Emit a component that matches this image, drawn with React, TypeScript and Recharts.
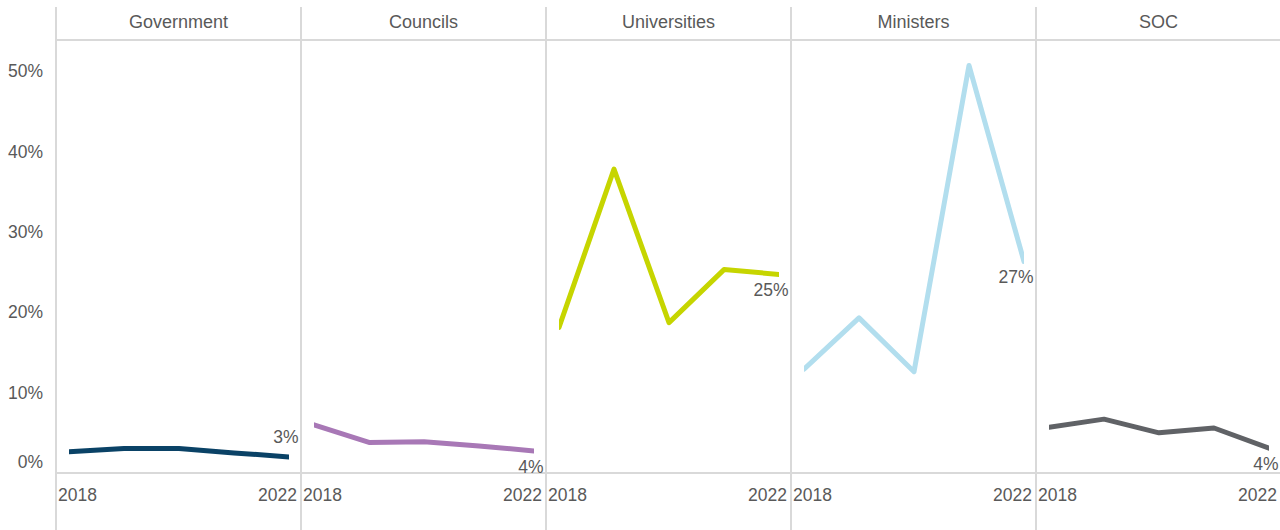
import React from 'react';
import { LineChart, Line, XAxis, YAxis, LabelList } from 'recharts';

const years = [2018, 2019, 2020, 2021, 2022];
const panelNames = ['Government', 'Councils', 'Universities', 'Ministers', 'SOC'];
const government = [2.65, 3.05, 3.05, 2.5, 2.0];
const councils = [6.0, 3.8, 3.9, 3.35, 2.75];
const universities = [18.1, 37.8, 18.7, 25.3, 24.7];
const ministers = [12.9, 19.3, 12.6, 50.7, 26.3];
const soc = [5.7, 6.7, 5.0, 5.6, 3.1];
const endLabels = ['3%', '4%', '25%', '27%', '4%'];
const yTicks = [0, 10, 20, 30, 40, 50];
const xTicks = [2018, 2022];

const seriesList = [government, councils, universities, ministers, soc];
const colors = ['#0a4266', '#a878b6', '#c6d500', '#b2deee', '#606266'];
const labelAbove = [true, false, false, false, false];

const FONT = '"Liberation Sans", Arial, Helvetica, sans-serif';
const TEXT = '#595959';
const GRID = '#d9d9d9';
const FS = 17.5;

const Y_AXIS_W = 56;
const PANEL_W = 245;
const H = 530;
const TOP = 40;
const X_AXIS_H = 57;
const Y_DOMAIN: [number, number] = [0, 53.86];

const XTick = (props: any) => {
  const { x, y, payload } = props;
  const first = payload.value === xTicks[0];
  return (
    <text
      x={first ? x - 11 : x + 8}
      y={y + 22}
      dy="0.35em"
      textAnchor={first ? 'start' : 'end'}
      fill={TEXT}
      fontSize={FS}
      fontFamily={FONT}
    >
      {payload.value}
    </text>
  );
};

const YTick = (props: any) => {
  const { x, y, payload } = props;
  return (
    <text
      x={x}
      y={payload.value === 0 ? y - 11 : y}
      dy="0.35em"
      textAnchor="end"
      fill={TEXT}
      fontSize={FS}
      fontFamily={FONT}
    >
      {payload.value}%
    </text>
  );
};

const makeEndLabel = (above: boolean) => (props: any) => {
  const { value } = props;
  if (!value) return null;
  const vb = props.viewBox || {};
  const x = vb.x ?? props.x;
  const y = vb.y ?? props.y;
  return (
    <text
      x={x + 9.5}
      y={above ? y - 20 : y + 15.5}
      dy="0.35em"
      textAnchor="end"
      fill={TEXT}
      fontSize={FS}
      fontFamily={FONT}
    >
      {value}
    </text>
  );
};

export default function App() {
  const panels = panelNames.map((name, i) => {
    const values = seriesList[i];
    const data = years.map((yr, j) => ({
      year: yr,
      value: values[j],
      label: j === years.length - 1 ? endLabels[i] : undefined,
    }));
    const isFirst = i === 0;
    const left = isFirst ? 0 : Y_AXIS_W + PANEL_W * i;
    const width = isFirst ? Y_AXIS_W + PANEL_W : PANEL_W;
    return (
      <div key={name} style={{ position: 'absolute', left, top: 0, width, height: H }}>
        <LineChart width={width} height={H} data={data} margin={{ top: TOP, right: 0, bottom: 0, left: 0 }}>
          <XAxis
            dataKey="year"
            type="number"
            domain={[2018, 2022]}
            allowDataOverflow
            ticks={xTicks}
            padding={{ left: 13, right: 12 }}
            height={X_AXIS_H}
            axisLine={false}
            tickLine={false}
            tickSize={0}
            tickMargin={0}
            tick={<XTick />}
            interval={0}
          />
          {isFirst ? (
            <YAxis
              type="number"
              domain={Y_DOMAIN}
              allowDataOverflow
              ticks={yTicks}
              width={Y_AXIS_W}
              axisLine={false}
              tickLine={false}
              tickSize={0}
              tickMargin={13}
              tick={<YTick />}
              interval={0}
            />
          ) : (
            <YAxis type="number" domain={Y_DOMAIN} allowDataOverflow hide />
          )}
          <Line
            type="linear"
            dataKey="value"
            stroke={colors[i]}
            strokeWidth={5}
            dot={false}
            activeDot={false}
            isAnimationActive={false}
          >
            <LabelList dataKey="label" content={makeEndLabel(labelAbove[i])} />
          </Line>
        </LineChart>
      </div>
    );
  });

  const dividers = panelNames.map((_, i) => (
    <div
      key={'v' + i}
      style={{
        position: 'absolute',
        left: Y_AXIS_W + PANEL_W * i - 1,
        top: 7,
        width: 1.5,
        height: H - 7,
        background: GRID,
      }}
    />
  ));

  const titles = panelNames.map((name, i) => (
    <div
      key={'t' + i}
      style={{
        position: 'absolute',
        left: Y_AXIS_W + PANEL_W * i,
        top: 6,
        width: PANEL_W,
        height: 33,
        lineHeight: '33px',
        textAlign: 'center',
        color: TEXT,
        fontSize: 18,
        fontFamily: FONT,
      }}
    >
      {name}
    </div>
  ));

  return (
    <div
      style={{
        position: 'absolute',
        left: 0,
        top: 0,
        width: 1280,
        height: H,
        background: '#ffffff',
        fontFamily: FONT,
        overflow: 'hidden',
      }}
    >
      <style>{`.recharts-line-curve { stroke-linecap: round; stroke-linejoin: round; }`}</style>
      {dividers}
      <div style={{ position: 'absolute', left: Y_AXIS_W - 1, top: TOP - 1, width: 1280 - Y_AXIS_W + 1, height: 1.5, background: GRID }} />
      <div style={{ position: 'absolute', left: Y_AXIS_W - 1, top: H - X_AXIS_H - 1, width: 1280 - Y_AXIS_W + 1, height: 1.5, background: GRID }} />
      {titles}
      {panels}
    </div>
  );
}
